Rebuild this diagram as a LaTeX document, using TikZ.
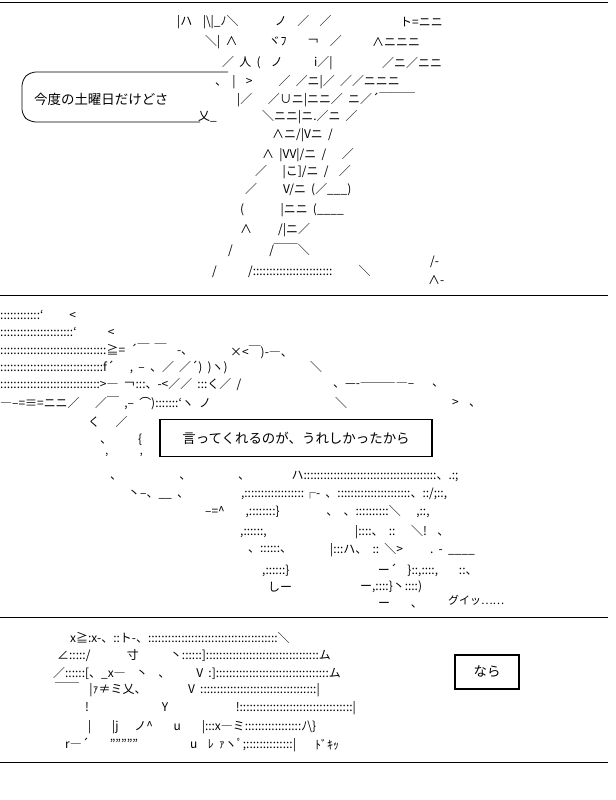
\documentclass[tikz,border=0pt]{standalone}
\usepackage{fontspec}
\setmainfont{Noto Sans CJK JP}
\usetikzlibrary{positioning}
\newcommand\aaspace{\hskip5.2bp\relax}
\newcommand\aafont{\fontsize{12}{12}\selectfont\let\ \aaspace}
\tikzset{
  aa/.style = {anchor=west, inner sep=0pt, font=\aafont},
  sayline/.style = {anchor=west, inner sep=0pt, font=\fontsize{13.5}{13.5}\selectfont},
  panelrule/.style = {line width=1pt},
  saybox/.style = {draw, line width=1.3pt, inner xsep=8pt, inner ysep=6pt,
                   font=\fontsize{13.5}{13.5}\selectfont}
}
\begin{document}
\begin{tikzpicture}[x=1bp, y=-1bp]
  \useasboundingbox (0,0) rectangle (616,800);
  % panel rules
  \coordinate (r1a) at (0,2);   \coordinate (r1b) at (608,2);
  \coordinate (r2a) at (0,295); \coordinate (r2b) at (608,295);
  \coordinate (r3a) at (0,617); \coordinate (r3b) at (608,617);
  \coordinate (r4a) at (0,762); \coordinate (r4b) at (608,762);
  \draw[panelrule] (r1a) -- (r1b) (r2a) -- (r2b) (r3a) -- (r3b) (r4a) -- (r4b);

  % panel 1
  \node[aa] (p1a) at (177,22)  {|ハ\ \ |\textbackslash|\_ﾉ＼\ \ \ \ \ \ \ ノ\ \ ／\ \ ／};
  \node[aa] (p1a2) at (400,22) {ト=ニニ};
  \node[aa] (p1b) at (205,42)  {＼|\ ∧\ \ \ \ \ \ ヾﾌ\ \ \ \ ￢\ \ ／};
  \node[aa] (p1b2) at (372,42) {∧ニニニ};
  \node[aa] (p1c) at (222,63)  {／\ 人\ (\ \ ノ\ \ \ \ \ \ i／|};
  \node[aa] (p1c2) at (382,63) {／ニ／ニニ};
  \node[aa] (p1d) at (215,82)  {、\ |\ \ >\ \ \ \ \ ／\ ／ニ|／\ ／／ニニニ};
  \node[aa] (p1e) at (237,100) {|／\ \ \ ／∪ニ|ニニ／\ ニ／´￣￣￣};
  \node[aa] (p1t) at (198,117) {乂\_};
  \node[aa] (p1f) at (262,117) {＼ニニ|ニ.／ニ\ ／};
  \node[aa] (p1g) at (272,135) {∧ニ/|Vニ\ /};
  \node[aa] (p1h) at (262,155) {∧\ |VV|/ニ\ /\ \ \ ／};
  \node[aa] (p1i) at (255,172) {／\ \ \ |こ]/ニ\ /\ \ ／};
  \node[aa] (p1j) at (245,190) {／\ \ \ \ \ V/ニ\ (／\_\_\_)};
  \node[aa] (p1k) at (240,210) {(\ \ \ \ \ \ \ |ニニ\ (\_\_\_\_};
  \node[aa] (p1l) at (240,230) {∧\ \ \ \ \ /|ニ／};
  \node[aa] (p1m) at (228,250) {/\ \ \ \ \ \ \ /￣￣＼};
  \node[aa] (p1n) at (212,272) {/\ \ \ \ \ \ /::::::::::::::::::::::::\ \ \ \ \ ＼};
  \node[aa] (p1o) at (430,262) {/-};
  \node[aa] (p1p) at (428,280) {∧-};
  % bubble
  \draw[line width=0.8pt, rounded corners=6pt]
    (228,72) -- (30,72) -- (22,80) -- (22,115) -- (30,122) -- (200,122);
  \node[sayline] (say1) at (34,99) {今度の土曜日だけどさ};

  % panel 2
  \node[aa] (p2a) at (0,315) {::::::::::::`\ \ \ \ \ <};
  \node[aa] (p2b) at (0,332) {::::::::::::::::::::::`\ \ \ \ \ \ <};
  \node[aa] (p2c) at (0,350) {::::::::::::::::::::::::::::::::≧=\ ´￣\ ￣\ \ -、};
  \node[aa] (p2d) at (230,352) {×<￣)-―、};
  \node[aa] (p2e) at (0,367) {:::::::::::::::::::::::::::::::f´\ \ \ ,\ --\ 、／\ ／´)\ )ヽ)};
  \node[aa] (p2e2) at (310,367) {＼};
  \node[aa] (p2f) at (0,385) {::::::::::::::::::::::::::::::>―\ ￢:::、-<／／\ :::く／\ /};
  \node[aa] (p2f2) at (333,385) {、----――――--};
  \node[aa] (p2f3) at (432,385) {、};
  \node[aa] (p2g) at (0,403) {―--=≡=ニニ／\ \ \ ／￣\ ,--\ ⌒):::::::`ヽ\ ノ};
  \node[aa] (p2g2) at (335,403) {＼};
  \node[aa] (p2g3) at (452,403) {>\ \ 、};
  \node[aa] (p2h) at (88,422) {く\ \ \ ／};
  \node[aa] (p2i) at (100,440) {、\ \ \ \ \ \{};
  \node[aa] (p2j) at (105,458) {'\ \ \ \ \ \ '};
  \node[aa] (p2k) at (110,476) {、\ \ \ \ \ \ \ \ \ \ \ 、\ \ \ \ \ \ \ \ \ 、\ \ \ \ \ \ \ \ ハ::::::::::::::::::::::::::::::::::::::::、.:;};
  \node[aa] (p2l) at (128,494) {丶--、\_\_\ 、\ \ \ \ \ \ \ \ \ \ ,::::::::::::::::::┌-\ 、::::::::::::::::::::::、::/;::,};
  \node[aa] (p2m) at (205,512) {--=\^{}\ \ \ \ ,::::::::\}\ \ \ \ \ \ \ \ \ 、\ 、::::::::::＼\ \ \ ,::,};
  \node[aa] (p2n) at (240,532) {,::::::,\ \ \ \ \ \ \ \ \ \ \ \ \ \ \ \ \ |::::、\ ::\ \ \ ＼!\ \ 、};
  \node[aa] (p2o) at (248,550) {、::::::、};
  \node[aa] (p2o3) at (330,550) {|:::ハ、\ ::\ ＼>};
  \node[aa] (p2o2) at (430,552) {.\ -\ \_\_\_\_};
  \node[aa] (p2p) at (262,570) {,::::::\}\ \ \ \ \ \ \ \ \ \ \ \ \ \ \ \ \ ー´\ \ \}::,::::,\ \ \ \ ::、};
  \node[aa] (p2q) at (268,587) {しー};
  \node[aa] (p2q2) at (360,587) {ー,::::\}丶::::)};
  \node[aa] (p2r) at (378,605) {ー\ \ \ \ 、};
  \node[sayline] (gui) at (448,600) {\fontsize{11}{11}\selectfont グイッ……};
  \node[saybox, minimum width=272bp, minimum height=37bp] (say2) at (296,438)
    {言ってくれるのが、うれしかったから};

  % panel 3
  \node[aa] (p3a) at (70,638)  {x≧:x-、::ト-、:::::::::::::::::::::::::::::::::::::::＼};
  \node[aa] (p3b) at (57,656)  {∠:::::/\ \ \ \ \ \ \ 寸\ \ \ \ \ \ 丶::::::]::::::::::::::::::::::::::::::::::ム};
  \node[aa] (p3c) at (53,673)  {／::::::[、\_x―\ \ 丶\ \ 、\ \ \ \ \ V\ :]::::::::::::::::::::::::::::::::::ム};
  \node[aa] (p3d) at (55,690)  {￣￣\ \ |ｧ≠ミ乂、\ \ \ \ \ \ \ \ V\ :::::::::::::::::::::::::::::::::::|};
  \node[aa] (p3e) at (85,708)  {!\ \ \ \ \ \ \ \ \ \ \ \ \ \ Y\ \ \ \ \ \ \ \ \ \ \ \ \ !::::::::::::::::::::::::::::::::::|};
  \node[aa] (p3f) at (88,727)  {|\ \ \ \ |j\ \ \ ノ\^{}\ \ \ \ u\ \ \ \ |:::x―ミ:::::::::::::::::ﾉ\textbackslash\}};
  \node[aa] (p3g) at (65,745)  {r―´\ \ \ \ ''''''''''\ \ \ \ \ \ \ \ \ \ u\ \ ﾚ\ ｧヽﾟ;::::::::::::::|};
  \node[aa] (p3g2) at (315,745) {ﾄﾞｷｯ};
  \node[saybox, minimum width=64bp, minimum height=34bp] (say3) at (487,672) {なら};
\end{tikzpicture}
\end{document}
